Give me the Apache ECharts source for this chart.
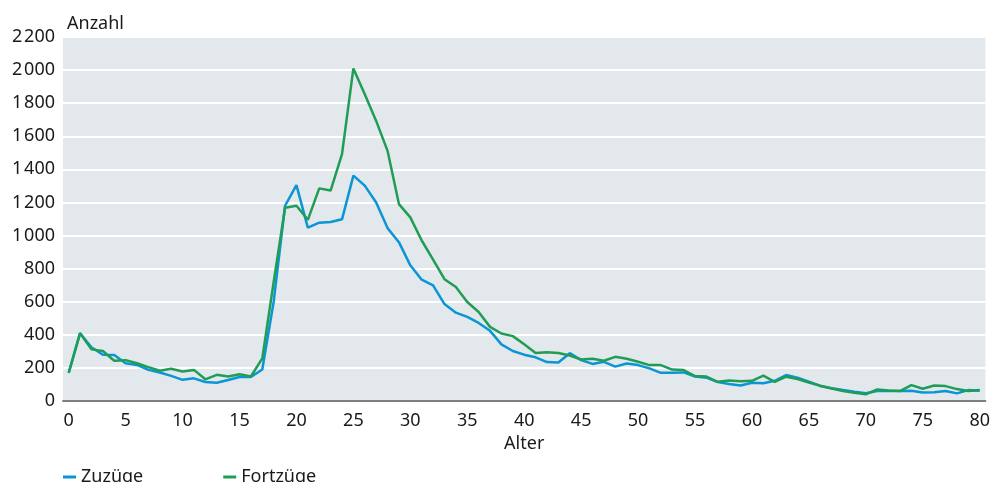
<!DOCTYPE html>
<html>
<head>
<meta charset="utf-8">
<script src="https://cdn.jsdelivr.net/npm/echarts@6/dist/echarts.min.js"></script>
<style>
  html, body { margin: 0; padding: 0; background: #fff; }
  #main { width: 993px; height: 482px; }
</style>
</head>
<body>
<div id="main"></div>
<script>
// Alter 0 bis 80
var ages = [];
for (var a = 0; a <= 80; a++) ages.push(String(a));

var zuzuege = [170, 410, 325, 280, 278, 228, 218, 188, 172, 152,
  128, 137, 115, 110, 127, 145, 145, 190, 600, 1180,
  1305, 1048, 1078, 1082, 1098, 1362, 1302, 1200, 1045, 960,
  820, 733, 699, 586, 534, 508, 472, 424, 342, 302,
  280, 264, 235, 233, 289, 247, 224, 237, 208, 227,
  217, 197, 170, 171, 173, 148, 141, 114, 103, 94,
  110, 107, 122, 157, 141, 117, 91, 77, 66, 56,
  47, 60, 60, 60, 62, 51, 53, 60, 46, 66,
  62];

var fortzuege = [170, 410, 312, 302, 243, 247, 228, 205, 183, 195,
  178, 188, 131, 158, 148, 162, 148, 258, 720, 1168,
  1180, 1095, 1285, 1272, 1492, 2010, 1854, 1693, 1512, 1190,
  1110, 970, 854, 736, 689, 598, 538, 448, 408, 392,
  343, 290, 294, 290, 275, 251, 255, 243, 267, 255,
  237, 217, 217, 190, 187, 151, 148, 116, 124, 120,
  122, 153, 116, 147, 133, 112, 92, 76, 60, 50,
  40, 70, 64, 60, 96, 74, 94, 90, 72, 60,
  66];

var FONT = "'Noto Sans', sans-serif";
var TEXT = '#1a1a1a';

function fmt(v) {
  // Tausender mit schmalem Leerzeichen
  var s = String(v);
  if (s.length > 3) s = s.slice(0, s.length - 3) + '\u200A' + s.slice(-3);
  return s;
}

var chart = echarts.init(document.getElementById('main'));
chart.setOption({
  animation: false,
  textStyle: { fontFamily: FONT, color: TEXT },
  title: {
    text: 'Anzahl',
    left: 62,
    top: 10,
    textStyle: { fontFamily: FONT, fontSize: 18, fontWeight: 'normal', color: TEXT }
  },
  grid: {
    left: 63, right: 7, top: 37, bottom: 81,
    show: true,
    backgroundColor: '#e3e8ec',
    borderWidth: 0
  },
  legend: {
    left: 63,
    top: 468,
    padding: 0,
    icon: 'rect',
    itemWidth: 13,
    itemHeight: 3,
    itemTextGap: 10,
    itemGap: 80,
    textStyle: { fontFamily: FONT, fontSize: 18, color: TEXT },
    data: ['Zuzüge', 'Fortzüge']
  },
  xAxis: {
    type: 'category',
    data: ages,
    boundaryGap: true,
    name: 'Alter',
    nameLocation: 'middle',
    nameGap: 32,
    nameTextStyle: { fontFamily: FONT, fontSize: 18, color: TEXT },
    axisLine: { lineStyle: { color: '#7f7f7f', width: 2 } },
    axisTick: { show: false },
    axisLabel: { interval: 4, margin: 11, fontFamily: FONT, fontSize: 18, color: TEXT },
    splitLine: { show: false }
  },
  yAxis: {
    type: 'value',
    min: 0,
    max: 2200,
    interval: 200,
    axisLine: { show: false },
    axisTick: { show: false },
    axisLabel: { margin: 8, fontFamily: FONT, fontSize: 18, color: TEXT, formatter: fmt },
    splitLine: { lineStyle: { color: '#ffffff', width: 2 } }
  },
  series: [
    {
      name: 'Zuzüge',
      type: 'line',
      data: zuzuege,
      symbol: 'none',
      itemStyle: { color: '#0a95d5' },
      lineStyle: { color: '#0a95d5', width: 2.5 }
    },
    {
      name: 'Fortzüge',
      type: 'line',
      data: fortzuege,
      symbol: 'none',
      itemStyle: { color: '#1f9d55' },
      lineStyle: { color: '#1f9d55', width: 2.5 }
    }
  ]
});
</script>
</body>
</html>
